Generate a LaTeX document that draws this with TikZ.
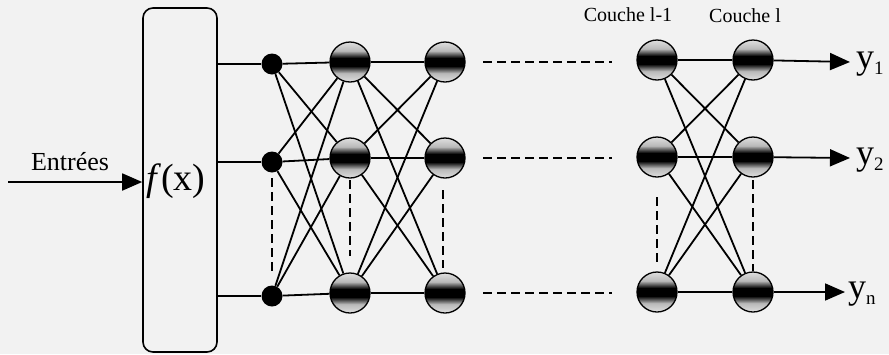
\documentclass[tikz,border=0pt]{standalone}
\usepackage{fontspec}
\setmainfont{Liberation Serif}
\usetikzlibrary{arrows.meta}
\pgfdeclareverticalshading{ballshade}{100bp}{color(0bp)=(gray!25); color(25bp)=(gray!25); color(36bp)=(gray!55); color(45bp)=(black); color(55bp)=(black); color(64bp)=(gray!55); color(75bp)=(gray!25); color(100bp)=(gray!25)}
\definecolor{paper}{gray}{0.95}
\newcommand{\ylab}[1]{{\fontsize{36}{36}\selectfont y}\raisebox{-6pt}{\fontsize{19}{19}\selectfont #1}}
\begin{document}
\begin{tikzpicture}[x=1pt,y=-1pt,
  neuron/.style={circle, draw=black, line width=1.3pt, minimum size=40pt, inner sep=0pt, shade, shading=ballshade},
  dotnode/.style={circle, fill=black, minimum size=21pt, inner sep=0pt},
  link/.style={line width=1.8pt},
  dashlink/.style={line width=1.5pt, dash pattern=on 9pt off 5pt},
  outarrow/.style={line width=1.8pt, -{Triangle[length=20pt,width=17pt]}},
  lbl/.style={inner sep=0pt}
]
\fill[paper] (0,0) rectangle (889,354);
\useasboundingbox (0,0) rectangle (889,354);

% function box
\node (box) [draw, rounded corners=10pt, line width=1.6pt, minimum width=74pt, minimum height=344pt, inner sep=0pt] at (180,180) {};
\node (fx) [lbl, font=\fontsize{38}{38}\selectfont] at (176,181) {\textit{f}(x)};

% input
\coordinate (in) at (8,182);
\node (entrees) [lbl, font=\fontsize{26}{26}\selectfont] at (70,162) {Entrées};
\draw[outarrow] (in) -- (in -| box.west);

% input dots
\node (d1) [dotnode] at (272,64) {};
\node (d2) [dotnode] at (272,162) {};
\node (d3) [dotnode] at (272,296) {};

% layers
\node (a1) [neuron] at (350,62) {};
\node (a2) [neuron] at (350,158) {};
\node (a3) [neuron] at (350,293) {};
\node (b1) [neuron] at (445,62) {};
\node (b2) [neuron] at (445,158) {};
\node (b3) [neuron] at (445,293) {};
\node (c1) [neuron] at (657,60) {};
\node (c2) [neuron] at (657,157) {};
\node (c3) [neuron] at (657,292) {};
\node (e1) [neuron] at (753,60) {};
\node (e2) [neuron] at (753,157) {};
\node (e3) [neuron] at (753,292) {};

% layer labels
\node (cl1) [lbl, font=\fontsize{20}{20}\selectfont] at (628,15) {Couche l-1};
\node (cl) [lbl, font=\fontsize{20}{20}\selectfont] at (745,16) {Couche l};

% box to dots
\foreach \d in {d1,d2,d3} \draw[link] (box.east |- \d) -- (\d);

% full connections
\foreach \s in {d1,d2,d3} \foreach \t in {a1,a2,a3} \draw[link] (\s) -- (\t);
\foreach \s in {a1,a2,a3} \foreach \t in {b1,b2,b3} \draw[link] (\s) -- (\t);
\foreach \s in {c1,c2,c3} \foreach \t in {e1,e2,e3} \draw[link] (\s) -- (\t);

% dashed horizontal continuation
\coordinate (h1s) at (483,62); \coordinate (h1e) at (612,62);
\coordinate (h2s) at (483,158); \coordinate (h2e) at (612,158);
\coordinate (h3s) at (483,293); \coordinate (h3e) at (612,293);
\draw[dashlink] (h1s) -- (h1e);
\draw[dashlink] (h2s) -- (h2e);
\draw[dashlink] (h3s) -- (h3e);

% dashed vertical
\coordinate (vd1) at (272,178); \coordinate (vd2) at (272,274);
\coordinate (va1) at (350,180); \coordinate (va2) at (350,256);
\coordinate (vb1) at (443,190); \coordinate (vb2) at (443,268);
\coordinate (vc1) at (657,197); \coordinate (vc2) at (657,264);
\coordinate (ve1) at (753,180); \coordinate (ve2) at (753,271);
\draw[dashlink] (vd1) -- (vd2);
\draw[dashlink] (va1) -- (va2);
\draw[dashlink] (vb1) -- (vb2);
\draw[dashlink] (vc1) -- (vc2);
\draw[dashlink] (ve1) -- (ve2);

% outputs
\coordinate (o1) at (850,62);
\coordinate (o2) at (850,158);
\coordinate (o3) at (845,292);
\draw[outarrow] (e1) -- (o1);
\draw[outarrow] (e2) -- (o2);
\draw[outarrow] (e3) -- (o3);
\node (y1) [lbl, anchor=base west] at (856,68) {\ylab{1}};
\node (y2) [lbl, anchor=base west] at (856,164) {\ylab{2}};
\node (yn) [lbl, anchor=base west] at (848,298) {\ylab{n}};
\end{tikzpicture}
\end{document}
